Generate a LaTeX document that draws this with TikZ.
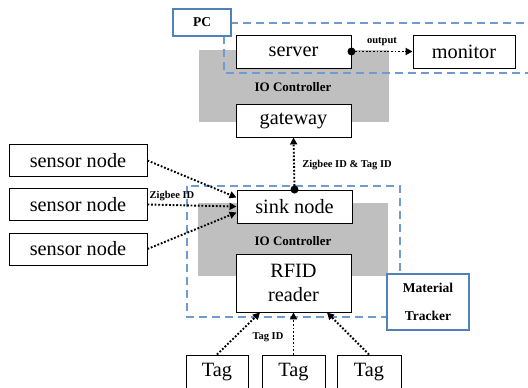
\documentclass[tikz,border=0pt]{standalone}
\usepackage{fontspec}
\setmainfont{Liberation Serif}
\usetikzlibrary{arrows.meta,calc}
\definecolor{dashblue}{RGB}{110,155,210}
\definecolor{boxblue}{RGB}{79,129,189}
\definecolor{iogray}{RGB}{191,191,191}
\tikzset{
  box/.style={draw=black, line width=0.9pt, fill=white, inner sep=0pt, font=\fontsize{20.3}{21}\selectfont},
  bluebox/.style={draw=boxblue, line width=1.5pt, fill=white, inner sep=0pt, font=\bfseries\fontsize{13.5}{14}\selectfont, align=center},
  region/.style={draw=dashblue, line width=1.6pt, dash pattern=on 8pt off 5pt},
  gray/.style={fill=iogray, draw=none},
  lbl/.style={font=\bfseries\fontsize{10.5}{11}\selectfont, inner sep=0pt},
  iolbl/.style={font=\bfseries\fontsize{13}{14}\selectfont, inner sep=0pt},
  conn/.style={line width=1.9pt, dash pattern=on 1.8pt off 1.8pt, -{Triangle[length=7pt,width=7pt]}},
  startdot/.style={circle, fill=black, inner sep=0pt, minimum size=8pt}
}
\begin{document}
\begin{tikzpicture}[x=1pt,y=-1pt]
\useasboundingbox (0,0) rectangle (528,388);
\clip (0,0) rectangle (528,388);
% gray IO controller areas
\fill[iogray] (199,50) rectangle (389,122);
\fill[iogray] (198,203) rectangle (388,276);
\node[iolbl] (io1) at (293,87) {IO Controller};
\node[iolbl] (io2) at (293,241) {IO Controller};
% dashed regions
\draw[region] (224,23) rectangle (545,73);
\draw[region] (187,186) rectangle (400,317);
% boxes
\node[bluebox, minimum width=58pt, minimum height=27pt] (pc) at (202,22.5) {PC};
\node[bluebox, minimum width=82pt, minimum height=56pt, font=\bfseries\fontsize{13.5}{28}\selectfont] (mt) at (428,302) {Material\\Tracker};
\node[box, minimum width=115pt, minimum height=33pt] (server) at (293.5,51.5) {server};
\node[box, minimum width=102pt, minimum height=33pt] (monitor) at (464,51.5) {monitor};
\node[box, minimum width=115pt, minimum height=33pt] (gateway) at (293.5,120.5) {gateway};
\node[box, minimum width=115pt, minimum height=33pt] (sink) at (294.5,206.5) {sink node};
\node[box, minimum width=115pt, minimum height=58pt, align=center, font=\fontsize{20.3}{24}\selectfont] (rfid) at (293.5,283) {RFID\\reader};
\node[box, minimum width=138pt, minimum height=32pt] (s1) at (78,160.5) {sensor node};
\node[box, minimum width=138pt, minimum height=32pt] (s2) at (78,204.5) {sensor node};
\node[box, minimum width=138pt, minimum height=32pt] (s3) at (78,249) {sensor node};
\node[box, minimum width=62pt, minimum height=34pt] (t1) at (217,372) {Tag};
\node[box, minimum width=63pt, minimum height=34pt] (t2) at (293.5,372) {Tag};
\node[box, minimum width=64pt, minimum height=34pt] (t3) at (369,372) {Tag};
% connectors
\draw[conn] (server.east) -- (monitor.west);
\node[startdot] (d1) at (server.east) {};
\draw[conn] (sink.north) -- (gateway.south);
\node[startdot] (d2) at (sink.north) {};
\draw[conn] (s1.east) -- ($(sink.west)+(0,-9)$);
\draw[conn] (s2.east) -- (sink.west);
\draw[conn] (s3.east) -- ($(sink.west)+(0,6)$);
\draw[conn] (t1.north) -- ($(rfid.south)+(-33.5,0)$);
\draw[conn] (t2.north) -- (rfid.south);
\draw[conn] (t3.north) -- ($(rfid.south)+(33.5,0)$);
% labels
\node[lbl] (lout) at (382,42) {output};
\node[lbl] (lzt) at (347,165) {Zigbee ID \& Tag ID};
\node[lbl] (lz) at (172,196) {Zigbee ID};
\node[lbl] (lt) at (268,337) {Tag ID};
\end{tikzpicture}
\end{document}
